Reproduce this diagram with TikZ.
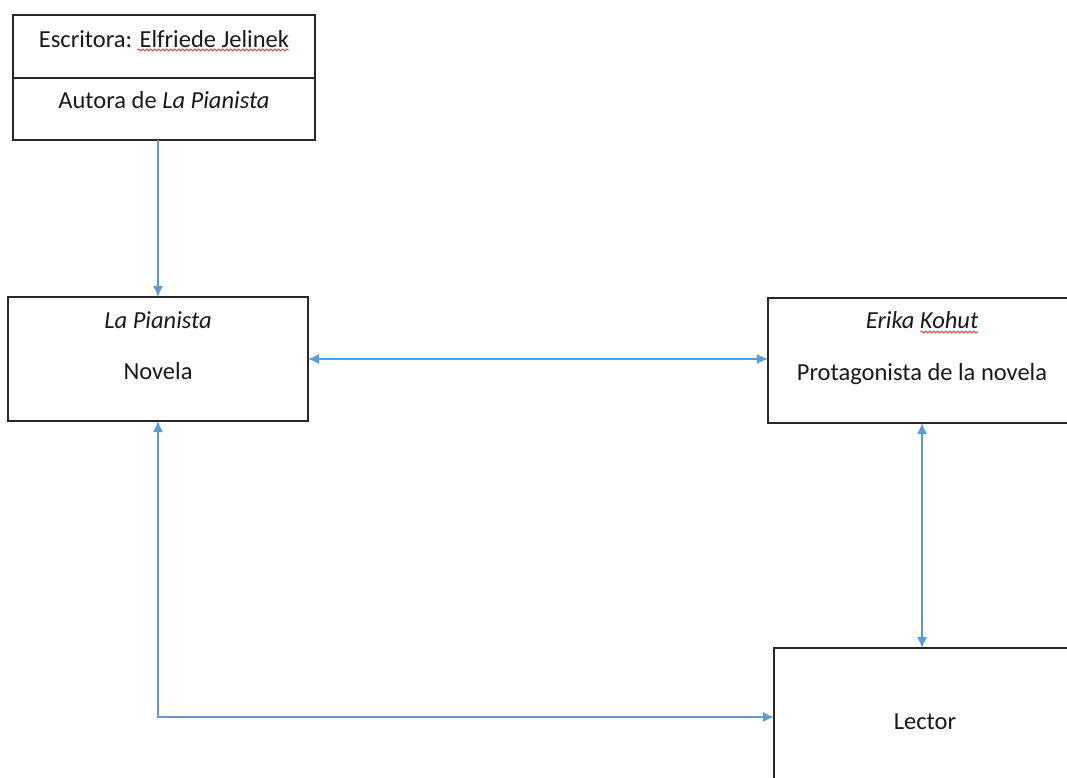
\documentclass[tikz,border=0pt]{standalone}
\usepackage{fontspec}
\setmainfont{Carlito}
\usepackage{tikz}
\usetikzlibrary{arrows.meta}
\usetikzlibrary{positioning}
\usetikzlibrary{decorations.pathmorphing}
\usepackage{color}
\definecolor{Office-Blue}{RGB}{91,155,213}
\definecolor{Spell-Red}{RGB}{230,30,30}
\definecolor{Box-Line}{RGB}{40,40,40}

\begin{document}
\begin{tikzpicture}[x=1pt, y=-1pt]
    \tikzset{ caja/.style  ={draw=Box-Line, line width=1.5pt, rectangle, outer sep=0pt, inner sep=0pt} }
    \tikzset{ txt/.style   ={inner sep=0pt, font=\fontsize{24.5}{29}\selectfont, text=black!90} }
    \tikzset{ flecha/.style={draw=Office-Blue, line width=1.6pt, >={Latex[length=11pt, width=10pt]}} }
    \tikzset{ onda/.style  ={draw=Spell-Red, line width=0.7pt, decorate, decoration={snake, segment length=4pt, amplitude=1pt}} }

    \clip (0,0) rectangle (1067,777);
    \fill[white] (0,0) rectangle (1067,777);

    \node[caja, minimum width=302pt, minimum height=63pt, anchor=north west] (escr)   at (13,15)  {};
    \node[caja, minimum width=302pt, minimum height=62pt, below=0pt of escr]  (autor)             {};
    \node[caja, minimum width=300pt, minimum height=124pt, anchor=north west] (pian)   at (8,297)  {};
    \node[caja, minimum width=308pt, minimum height=125pt, anchor=north west] (erika)  at (768,298) {};
    \node[caja, minimum width=302pt, minimum height=138pt, anchor=north west] (lector) at (774,648) {};

    \node[txt, anchor=base] (escrT)   at ([yshift=-32pt]escr.north)   {Escritora: Elfriede Jelinek};
    \node[txt, anchor=base] (autorT)  at ([yshift=-30pt]autor.north)  {Autora de \textit{La Pianista}};
    \node[txt, anchor=base] (pianT)   at ([yshift=-31pt]pian.north)   {\textit{La Pianista}};
    \node[txt, anchor=base] (novT)    at ([yshift=-82pt]pian.north)   {Novela};
    \node[txt, anchor=base] (erikaT)  at ([yshift=-30pt]erika.north)  {\textit{Erika Kohut}};
    \node[txt, anchor=base] (protT)   at ([yshift=-82pt]erika.north)  {Protagonista de la novela};
    \node[txt, anchor=base] (lectorT) at ([yshift=-81pt]lector.north) {Lector};

    % marcas del corrector
    \draw[onda] ([xshift=-152pt, yshift=-3pt]escrT.base east)  -- ([yshift=-3pt]escrT.base east);
    \draw[onda] ([xshift=-58pt,  yshift=-4pt]erikaT.base east) -- ([yshift=-4pt]erikaT.base east);

    \draw[flecha, ->]  (pian.north |- autor.south) -- (pian.north);
    \draw[flecha, <->] (pian.east) -- (pian.east -| erika.west);
    \draw[flecha, <->] (erika.south) -- (erika.south |- lector.north);
    \draw[flecha, <->] (pian.south) |- (lector.west);
\end{tikzpicture}
\end{document}
